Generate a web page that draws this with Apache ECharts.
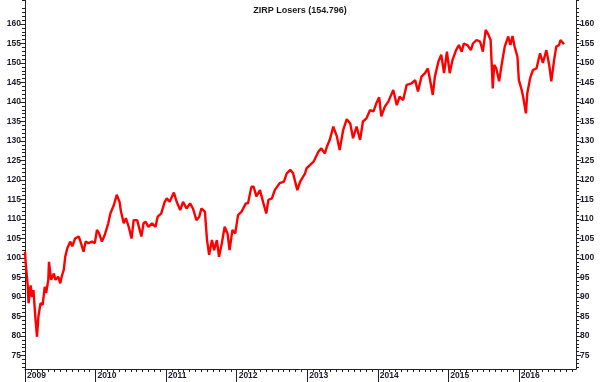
<!DOCTYPE html>
<html><head><meta charset="utf-8">
<script src="https://cdn.jsdelivr.net/npm/echarts@6/dist/echarts.min.js"></script>
<style>html,body{margin:0;padding:0;background:#fff}#c{width:600px;height:382px}</style>
</head><body><div id="c"></div>
<script>
// time in decimal years
const dates = [
2009.00,2009.01,2009.04,2009.05,2009.08,2009.10,2009.12,2009.15,2009.17,2009.19,2009.22,2009.25,2009.28,2009.30,2009.33,2009.34,2009.37,2009.41,2009.43,2009.47,2009.50,2009.52,2009.55,2009.57,2009.60,2009.64,2009.67,2009.71,2009.76,2009.78,2009.83,2009.86,2009.90,2009.95,2009.99,
2010.02,2010.05,2010.09,2010.13,2010.18,2010.21,2010.26,2010.30,2010.34,2010.36,2010.40,2010.43,2010.47,2010.51,2010.54,2010.59,2010.62,2010.65,2010.68,2010.71,2010.75,2010.80,2010.85,2010.88,2010.93,2010.98,
2011.01,2011.05,2011.11,2011.15,2011.20,2011.24,2011.29,2011.34,2011.38,2011.43,2011.47,2011.50,2011.55,2011.58,2011.61,2011.65,2011.68,2011.72,2011.75,2011.79,2011.83,2011.87,2011.90,2011.94,2011.98,
2012.02,2012.07,2012.13,2012.16,2012.21,2012.24,2012.28,2012.33,2012.38,2012.42,2012.45,2012.50,2012.54,2012.61,2012.67,2012.71,2012.76,2012.80,2012.86,2012.90,2012.97,2012.99,
2013.09,2013.16,2013.20,2013.25,2013.28,2013.32,2013.37,2013.42,2013.46,2013.51,2013.56,2013.61,2013.65,2013.70,2013.75,2013.79,2013.84,2013.89,2013.94,2013.98,
2014.02,2014.05,2014.10,2014.15,2014.22,2014.27,2014.31,2014.36,2014.41,2014.48,2014.53,2014.57,2014.62,2014.67,2014.71,2014.75,2014.78,2014.81,2014.86,2014.90,2014.94,2014.98,
2015.02,2015.06,2015.11,2015.15,2015.19,2015.22,2015.27,2015.32,2015.35,2015.40,2015.45,2015.49,2015.53,2015.57,2015.60,2015.63,2015.65,2015.68,2015.72,2015.76,2015.80,2015.85,2015.88,2015.91,2015.94,2015.98,
2016.00,2016.04,2016.06,2016.10,2016.12,2016.16,2016.20,2016.25,2016.30,2016.34,2016.39,2016.43,2016.46,2016.50,2016.53,2016.57,2016.59,2016.64
];
const values = [
101.6,98.7,92.6,88.4,93.0,90.0,91.8,84.0,79.8,85.0,88.4,88.0,92.6,91.0,94.4,99.0,94.4,96.0,94.4,95.2,93.5,95.2,97.0,100.3,102.5,104.2,103.0,105.0,105.5,104.6,101.6,104.2,103.8,104.2,103.8,
107.2,106.3,104.2,105.9,108.9,111.4,113.6,116.2,114.4,111.9,108.9,110.2,108.0,105.0,109.7,109.7,107.6,105.5,108.9,109.3,108.0,108.9,108.0,110.6,111.4,114.4,
115.3,114.4,116.8,114.4,112.3,114.4,112.7,114.0,112.7,109.7,110.6,112.7,111.9,104.6,100.8,104.6,102.0,104.6,100.3,103.8,108.0,106.3,102.0,107.2,106.3,
111.0,111.9,114.0,114.0,118.3,118.3,115.8,117.4,114.0,111.4,114.9,115.3,117.4,119.2,119.6,121.7,122.6,121.7,117.4,119.6,121.7,123.0,
124.7,127.3,128.1,126.8,128.6,130.3,133.7,131.2,127.7,132.8,135.6,134.5,130.7,133.7,130.3,135.0,135.8,137.9,137.6,139.7,
141.2,136.3,138.8,140.1,143.1,139.2,141.4,140.5,144.4,144.8,145.6,142.7,146.5,147.4,148.6,144.8,141.8,146.5,150.4,152.1,147.4,152.9,
147.4,150.8,153.3,154.6,152.9,155.0,154.6,153.3,155.0,155.9,155.5,152.9,158.5,157.2,155.9,143.5,149.5,148.6,145.3,150.0,154.2,156.8,154.6,156.9,154.2,151.6,
145.6,143.1,141.4,137.1,142.3,146.1,148.2,148.6,152.5,150.0,153.3,149.5,145.3,150.8,154.2,154.6,155.9,154.8
];
const yearTicks = [2009,2010,2011,2012,2013,2014,2015,2016];
const yearLabels = ['2009','2010','2011','2012','2013','2014','2015','2016'];
const yLabelTicks = [75,80,85,90,95,100,105,110,115,120,125,130,135,140,145,150,155,160];
const titleText = 'ZIRP Losers (154.796)';

const X_MIN = 2009, X_MAX = 2016.81, Y_MIN = 71.54, Y_MAX = 166.15;
const monthTicks = [];
for (let y = 2009; y <= 2016; y++) for (let m = 1; m < 12; m++) { const v = y + m / 12; if (v < X_MAX) monthTicks.push(v); }
const yMinor = [];
for (let v = 72; v <= 166; v++) if (v % 5 !== 0) yMinor.push(v);

const lineCol = '#222';
const labelStyle = { color: '#1a1a2a', fontSize: 8.5, fontWeight: 'bold', fontFamily: 'Liberation Sans, Arial, sans-serif' };
function yAx(pos, labels) {
  return {
    type: 'value', position: pos, min: Y_MIN, max: Y_MAX, splitLine: { show: false },
    axisLine: { show: labels, onZero: false, lineStyle: { color: lineCol, width: 1 } },
    axisTick: { show: true, length: labels ? 5 : 3, customValues: labels ? yLabelTicks : yMinor, lineStyle: { color: lineCol } },
    axisLabel: Object.assign({ show: labels, margin: 4, customValues: yLabelTicks }, labelStyle)
  };
}
const chart = echarts.init(document.getElementById('c'));
chart.setOption({
  animation: false,
  backgroundColor: '#fff',
  title: { text: titleText, left: 'center', top: 1, textStyle: { fontSize: 9, fontWeight: 'bold', color: '#1a1a1a', fontFamily: 'Liberation Sans, Arial, sans-serif' } },
  grid: { left: 25, right: 24, top: 0, bottom: 13 },
  xAxis: [
    { type: 'value', position: 'bottom', min: X_MIN, max: X_MAX, splitLine: { show: false },
      axisLine: { onZero: false, lineStyle: { color: lineCol } },
      axisTick: { length: 13, customValues: yearTicks, lineStyle: { color: lineCol } },
      axisLabel: Object.assign({ customValues: yearTicks, align: 'left', margin: 2, padding: [0, 0, 0, 2],
        formatter: v => yearLabels[yearTicks.indexOf(Math.round(v))] || '' }, labelStyle) },
    { type: 'value', position: 'bottom', min: X_MIN, max: X_MAX, splitLine: { show: false },
      axisLine: { show: false, onZero: false },
      axisTick: { length: 3, customValues: monthTicks, lineStyle: { color: lineCol } },
      axisLabel: { show: false } }
  ],
  yAxis: [yAx('left', true), yAx('right', true), yAx('left', false), yAx('right', false)],
  series: [{
    type: 'line', xAxisIndex: 0, yAxisIndex: 0, showSymbol: false, symbol: 'none',
    data: dates.map((d, i) => [d, values[i]]),
    lineStyle: { color: '#ff0000', width: 2.4 }
  }]
});
</script></body></html>
